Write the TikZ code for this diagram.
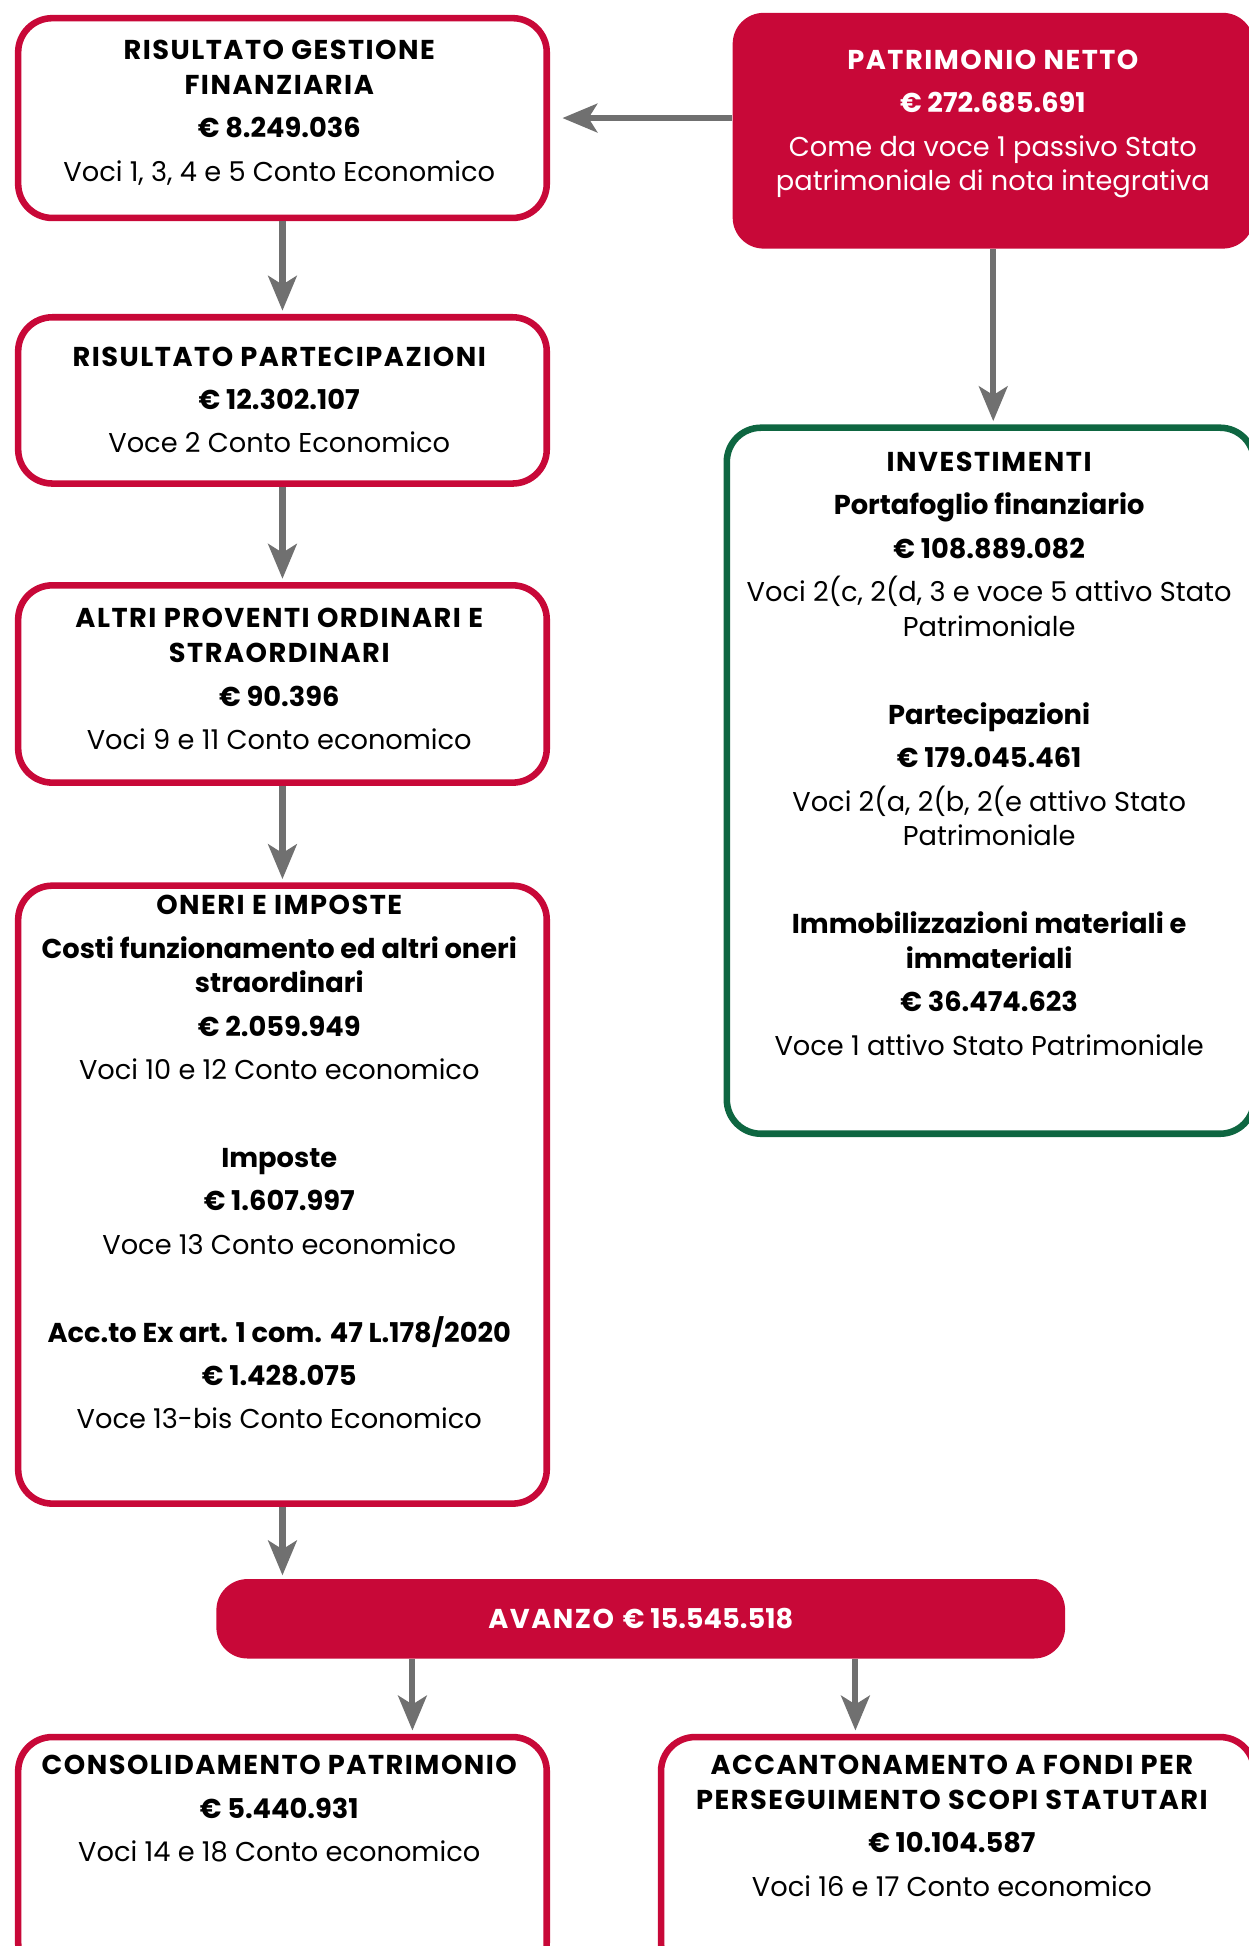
\documentclass[tikz,border=0pt]{standalone}
\usepackage{fontspec}
\setmainfont{Poppins}
\newfontfamily\capsfont{Poppins}[LetterSpace=5.5]
\newcommand{\titlecaps}[1]{{\capsfont\bfseries #1}}
\usetikzlibrary{arrows.meta, positioning}

\definecolor{crimson}{RGB}{200,8,56}
\definecolor{forest}{RGB}{14,102,65}
\definecolor{arrowgray}{RGB}{112,112,112}

\begin{document}
\begin{tikzpicture}[x=0.02cm, y=-0.02cm,
    redbox/.style = {draw=crimson, line width=3pt, rounded corners=0.55cm, fill=white, anchor=north west, inner sep=0pt},
    greenbox/.style = {draw=forest, line width=3pt, rounded corners=0.55cm, fill=white, anchor=north west, inner sep=0pt},
    fillbox/.style = {fill=crimson, rounded corners=0.5cm, anchor=north west, inner sep=0pt},
    txt/.style = {anchor=north, align=center, inner sep=0pt, font=\fontsize{12.5}{15.9}\selectfont},
    flow/.style = {draw=arrowgray, line width=2.8pt, shorten >=1.5pt, -{Stealth[length=0.56cm, width=0.46cm, inset=0.14cm]}}]
    \useasboundingbox (0,0) rectangle (1006,1568);

    % left column
    \node[redbox, minimum width=8.52cm, minimum height=3.22cm] (gest) at (12,12) {};
    \node[redbox, minimum width=8.52cm, minimum height=2.68cm] (part) at (12,253) {};
    \node[redbox, minimum width=8.52cm, minimum height=3.18cm] (altri) at (12,469) {};
    \node[redbox, minimum width=8.52cm, minimum height=9.96cm] (oneri) at (12,711) {};

    % right column
    \node[fillbox, minimum width=8.4cm, minimum height=3.8cm] (pn) at (590,10) {};
    \node[greenbox, minimum width=8.5cm, minimum height=11.38cm] (inv) at (583,342) {};

    % bottom
    \node[fillbox, minimum width=13.68cm, minimum height=1.28cm] (avanzo) at (174,1272) {};
    \node[redbox, minimum width=8.52cm, minimum height=3.86cm] (cons) at (12,1397) {};
    \node[redbox, minimum width=9.56cm, minimum height=3.86cm] (acc) at (530,1397) {};

    \node[txt] (gest-t) at (225,32) {\titlecaps{RISULTATO GESTIONE}\\\titlecaps{FINANZIARIA}\\[4pt]\textbf{€ 8.249.036}\\[4pt]Voci 1, 3, 4 e 5 Conto Economico};
    \node[txt] (part-t) at (225,279) {\titlecaps{RISULTATO PARTECIPAZIONI}\\[4pt]\textbf{€ 12.302.107}\\[4pt]Voce 2 Conto Economico};
    \node[txt] (altri-t) at (225,490) {\titlecaps{ALTRI PROVENTI ORDINARI E}\\\titlecaps{STRAORDINARI}\\[4pt]\textbf{€ 90.396}\\[4pt]Voci 9 e 11 Conto economico};
    \node[txt] (oneri-t) at (225,721) {\titlecaps{ONERI E IMPOSTE}\\[4pt]\textbf{Costi funzionamento ed altri oneri}\\\textbf{straordinari}\\[4pt]\textbf{€ 2.059.949}\\[4pt]Voci 10 e 12 Conto economico\\[24.4pt]
        \textbf{Imposte}\\[4pt]\textbf{€ 1.607.997}\\[4pt]Voce 13 Conto economico\\[24.4pt]
        \textbf{Acc.to Ex art. 1 com. 47 L.178/2020}\\[4pt]\textbf{€ 1.428.075}\\[4pt]Voce 13-bis Conto Economico};
    \node[txt, text=white] (pn-t) at (800,40) {\titlecaps{PATRIMONIO NETTO}\\[4pt]\textbf{€ 272.685.691}\\[4pt]Come da voce 1 passivo Stato\\patrimoniale di nota integrativa};
    \node[txt] (inv-t) at (797,364) {\titlecaps{INVESTIMENTI}\\[4pt]\textbf{Portafoglio finanziario}\\[4pt]\textbf{€ 108.889.082}\\[4pt]Voci 2(c, 2(d, 3 e voce 5 attivo Stato\\Patrimoniale\\[24.4pt]
        \textbf{Partecipazioni}\\[4pt]\textbf{€ 179.045.461}\\[4pt]Voci 2(a, 2(b, 2(e attivo Stato\\Patrimoniale\\[24.4pt]
        \textbf{Immobilizzazioni materiali e}\\\textbf{immateriali}\\[4pt]\textbf{€ 36.474.623}\\[4pt]Voce 1 attivo Stato Patrimoniale};
    \node[txt, anchor=center, text=white] (avanzo-t) at (avanzo.center) {\titlecaps{AVANZO} \textbf{€ 15.545.518}};
    \node[txt] (cons-t) at (225,1414) {\titlecaps{CONSOLIDAMENTO PATRIMONIO}\\[4pt]\textbf{€ 5.440.931}\\[4pt]Voci 14 e 18 Conto economico};
    \node[txt] (acc-t) at (767,1414) {\titlecaps{ACCANTONAMENTO A FONDI PER}\\\titlecaps{PERSEGUIMENTO SCOPI STATUTARI}\\[4pt]\textbf{€ 10.104.587}\\[4pt]Voci 16 e 17 Conto economico};

    \draw[flow, shorten >=0.2cm] (pn.west |- gest.east) -- (gest.east);
    \draw[flow] (pn.south) -- (pn.south |- inv.north);
    \draw[flow] (gest.south) -- (part.north);
    \draw[flow] (part.south) -- (altri.north);
    \draw[flow] (altri.south) -- (oneri.north);
    \draw[flow] (oneri.south) -- (oneri.south |- avanzo.north);
    \draw[flow] ([xshift=-3.68cm]avanzo.south) -- ([xshift=-3.68cm]avanzo.south |- cons.north);
    \draw[flow] ([xshift=3.46cm]avanzo.south) -- ([xshift=3.46cm]avanzo.south |- acc.north);
\end{tikzpicture}
\end{document}
